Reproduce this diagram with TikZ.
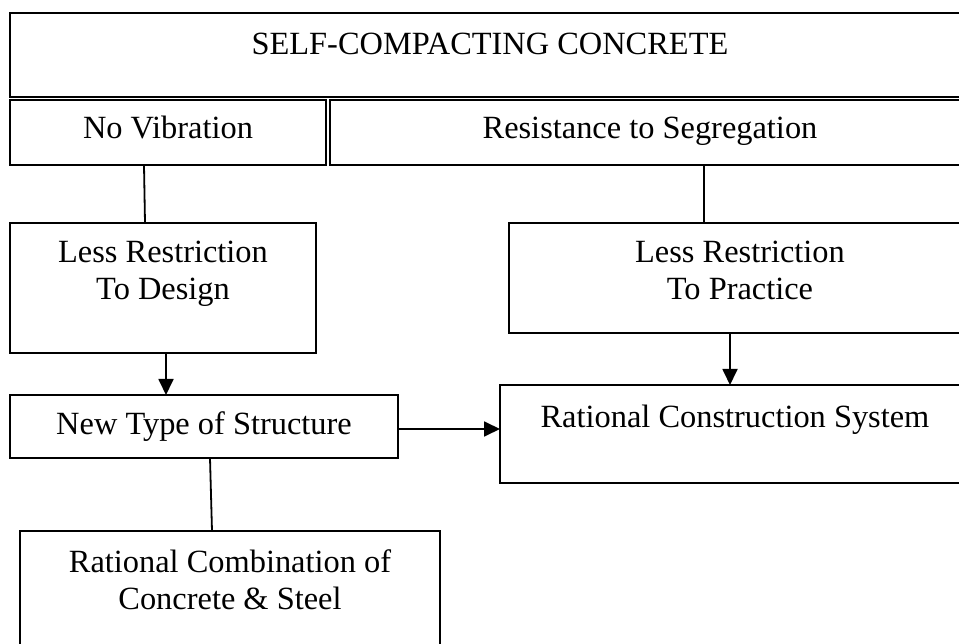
\documentclass[tikz,border=0pt]{standalone}
\usepackage{fontspec}
\setmainfont{Liberation Serif}
\usetikzlibrary{arrows.meta}
\begin{document}
\begin{tikzpicture}[x=1pt,y=-1pt,
  box/.style={draw, line width=1.8pt, inner sep=0pt, outer sep=0pt, anchor=north west},
  lbl/.style={inner sep=0pt, anchor=base, font=\fontsize{32.4}{37}\selectfont},
  conn/.style={line width=1.8pt},
  arr/.style={line width=1.8pt, -{Triangle[length=16pt,width=15pt]}}]
\useasboundingbox (0,0) rectangle (959,644);
\clip (0,0) rectangle (959,644);
\fill[white] (0,0) rectangle (959,644);
% boxes
\node[box, minimum width=960pt, minimum height=84pt] (top) at (10,13) {};
\node[box, minimum width=316pt, minimum height=65pt] (nv) at (10,100) {};
\node[box, minimum width=640pt, minimum height=65pt] (rs) at (330,100) {};
\node[box, minimum width=306pt, minimum height=130pt] (lrd) at (10,223) {};
\node[box, minimum width=461pt, minimum height=110pt] (lrp) at (509,223) {};
\node[box, minimum width=388pt, minimum height=63pt] (nt) at (10,395) {};
\node[box, minimum width=470pt, minimum height=98pt] (rcs) at (500,385) {};
\node[box, minimum width=420pt, minimum height=130pt] (rc) at (20,531) {};
% texts
\node[lbl] (ttop) at (490,55) {SELF-COMPACTING CONCRETE};
\node[lbl] (tnv) at (168,139) {No Vibration};
\node[lbl] (trs) at (650,139) {Resistance to Segregation};
\node[lbl] (tlrd) at (163,263) {\begin{tabular}[t]{@{}c@{}}Less Restriction\\To Design\end{tabular}};
\node[lbl] (tlrp) at (740,263) {\begin{tabular}[t]{@{}c@{}}Less Restriction\\To Practice\end{tabular}};
\node[lbl] (tnt) at (204,435) {New Type of Structure};
\node[lbl] (trcs) at (735,427) {Rational Construction System};
\node[lbl] (trc) at (230,572) {\begin{tabular}[t]{@{}c@{}}Rational Combination of\\Concrete \& Steel\end{tabular}};
% connectors
\draw[conn] ([xshift=134pt]nv.south west) -- ([xshift=135pt]lrd.north west);
\draw[conn] ([xshift=374pt]rs.south west) -- ([xshift=195pt]lrp.north west);
\draw[arr] ([xshift=156pt]lrd.south west) -- ([xshift=156pt]nt.north west);
\draw[arr] ([xshift=221pt]lrp.south west) -- ([xshift=230pt]rcs.north west);
\draw[arr] ([yshift=-34pt]nt.north east) -- ([yshift=-44pt]rcs.north west);
\draw[conn] ([xshift=200pt]nt.south west) -- ([xshift=192pt]rc.north west);
\end{tikzpicture}
\end{document}
